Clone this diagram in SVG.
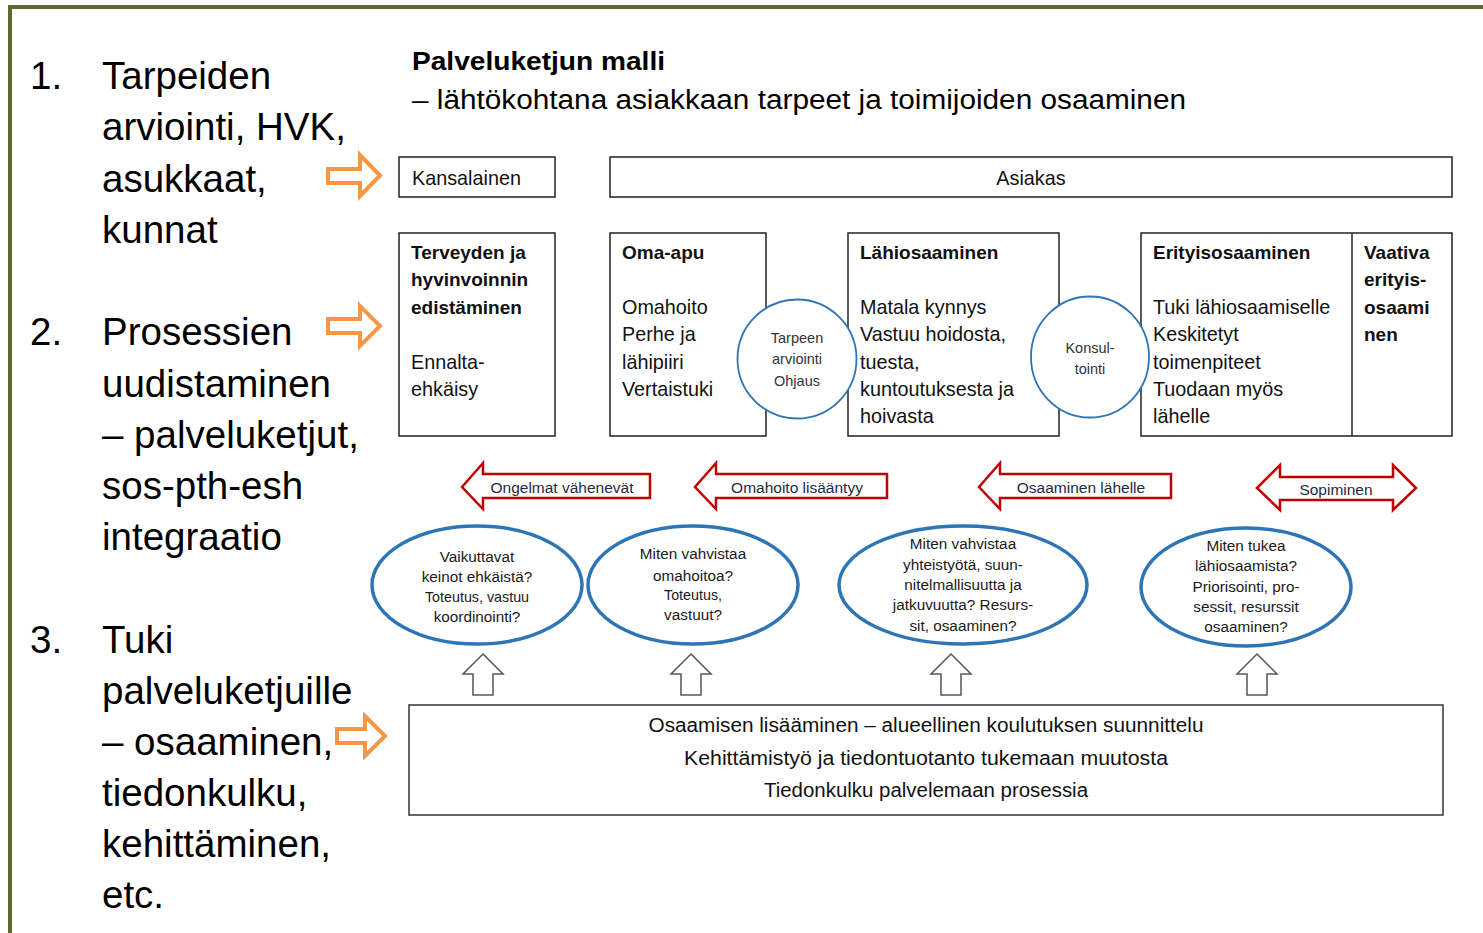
<svg xmlns="http://www.w3.org/2000/svg" width="1483" height="933" viewBox="0 0 1483 933">
<style>
text{font-family:"Liberation Sans",Arial,sans-serif;fill:#111}
.big{font-size:38.5px;fill:#000}
.box{fill:#fff;stroke:#222;stroke-width:1.5}
.bt{font-size:19.8px}
.bb{font-size:19px;font-weight:bold}
.circ{fill:#fff;stroke:#2E75B6;stroke-width:1.8}
.ct{font-size:14.5px;fill:#333;text-anchor:middle}
.ell{fill:#fff;stroke:#2E75B6;stroke-width:3.5}
.et{font-size:15.3px;text-anchor:middle;fill:#1a1a1a}
.es{font-size:14.3px;text-anchor:middle;fill:#1a1a1a}
.red{fill:#fff;stroke:#C00000;stroke-width:2.5;stroke-linejoin:miter}
.rt{font-size:15.5px;fill:#1F2A44;text-anchor:middle}
.org{fill:#fff;stroke:#F79646;stroke-width:4}
.up{fill:#fff;stroke:#555;stroke-width:1.5}
.bot{font-size:20px;text-anchor:middle;fill:#111}
</style>
<path d="M10,933 V7 H1483" fill="none" stroke="#5B6B2E" stroke-width="4"/>

<g id="left-list">
<text class="big" x="30" y="89">1.</text>
<text class="big" x="102" y="89">Tarpeiden</text>
<text class="big" x="102" y="140">arviointi, HVK,</text>
<text class="big" x="102" y="192">asukkaat,</text>
<text class="big" x="102" y="243">kunnat</text>
<text class="big" x="30" y="345">2.</text>
<text class="big" x="102" y="345">Prosessien</text>
<text class="big" x="102" y="397">uudistaminen</text>
<text class="big" x="102" y="448">– palveluketjut,</text>
<text class="big" x="102" y="499">sos-pth-esh</text>
<text class="big" x="102" y="550">integraatio</text>
<text class="big" x="30" y="653">3.</text>
<text class="big" x="102" y="653">Tuki</text>
<text class="big" x="102" y="704">palveluketjuille</text>
<text class="big" x="102" y="755">– osaaminen,</text>
<text class="big" x="102" y="806">tiedonkulku,</text>
<text class="big" x="102" y="857">kehittäminen,</text>
<text class="big" x="102" y="908">etc.</text>
</g>

<g id="title">
<text x="412" y="70" style="font-size:26px;font-weight:bold;fill:#000" textLength="253" lengthAdjust="spacingAndGlyphs">Palveluketjun malli</text>
<text x="412" y="109" style="font-size:27px;fill:#000" textLength="774" lengthAdjust="spacingAndGlyphs">– lähtökohtana asiakkaan tarpeet ja toimijoiden osaaminen</text>
</g>

<g id="connectors">
<path class="org" d="M328,169 H360 V155 L380,175.5 L360,196 V183 H328 Z"/>
<path class="org" d="M328,319 H360 V306 L380,326 L360,346 V333 H328 Z"/>
<path class="org" d="M337,729 H365 V716 L385,736 L365,756 V743 H337 Z"/>
<path class="red" d="M462,487 L483,463 V474 H650 V498 H483 V509 Z"/>
<path class="red" d="M695,487 L716,463 V474 H887 V498 H716 V509 Z"/>
<path class="red" d="M979,487 L1000,463 V474 H1171 V498 H1000 V509 Z"/>
<path class="red" d="M1257,488 L1280,465 V477 H1393 V465 L1416,488 L1393,510 V500 H1280 V510 Z"/>
<text class="rt" x="562" y="493">Ongelmat vähenevät</text>
<text class="rt" x="797" y="493">Omahoito lisääntyy</text>
<text class="rt" x="1081" y="493">Osaaminen lähelle</text>
<text class="rt" x="1336" y="495">Sopiminen</text>
<path class="up" d="M483,654 L503,674 H493 V695 H473 V674 H463 Z"/>
<path class="up" d="M691,654 L711,674 H701 V695 H681 V674 H671 Z"/>
<path class="up" d="M951,654 L971,674 H961 V695 H941 V674 H931 Z"/>
<path class="up" d="M1257,654 L1277,674 H1267 V695 H1247 V674 H1237 Z"/>
</g>

<g id="kansalainen">
<rect class="box" x="399" y="157" width="156" height="40"/>
<text class="bt" x="412" y="185">Kansalainen</text>
</g>
<g id="asiakas">
<rect class="box" x="610" y="157" width="842" height="40"/>
<text class="bt" x="1031" y="185" text-anchor="middle">Asiakas</text>
</g>

<g id="terveyden">
<rect class="box" x="399" y="233" width="156" height="203"/>
<text class="bb" x="411" y="259">Terveyden ja</text>
<text class="bb" x="411" y="286">hyvinvoinnin</text>
<text class="bb" x="411" y="314">edistäminen</text>
<text class="bt" x="411" y="369">Ennalta-</text>
<text class="bt" x="411" y="396">ehkäisy</text>
</g>
<g id="oma-apu">
<rect class="box" x="610" y="233" width="156" height="203"/>
<text class="bb" x="622" y="259">Oma-apu</text>
<text class="bt" x="622" y="314">Omahoito</text>
<text class="bt" x="622" y="341">Perhe ja</text>
<text class="bt" x="622" y="369">lähipiiri</text>
<text class="bt" x="622" y="396">Vertaistuki</text>
</g>
<g id="lahiosaaminen">
<rect class="box" x="848" y="233" width="211" height="203"/>
<text class="bb" x="860" y="259">Lähiosaaminen</text>
<text class="bt" x="860" y="314">Matala kynnys</text>
<text class="bt" x="860" y="341">Vastuu hoidosta,</text>
<text class="bt" x="860" y="369">tuesta,</text>
<text class="bt" x="860" y="396">kuntoutuksesta ja</text>
<text class="bt" x="860" y="423">hoivasta</text>
</g>
<g id="erityisosaaminen">
<rect class="box" x="1141" y="233" width="311" height="203"/>
<line x1="1352" y1="233" x2="1352" y2="436" stroke="#222" stroke-width="1.5"/>
<text class="bb" x="1153" y="259">Erityisosaaminen</text>
<text class="bt" x="1153" y="314">Tuki lähiosaamiselle</text>
<text class="bt" x="1153" y="341">Keskitetyt</text>
<text class="bt" x="1153" y="369">toimenpiteet</text>
<text class="bt" x="1153" y="396">Tuodaan myös</text>
<text class="bt" x="1153" y="423">lähelle</text>
</g>
<g id="vaativa">
<text class="bb" x="1364" y="259">Vaativa</text>
<text class="bb" x="1364" y="286">erityis-</text>
<text class="bb" x="1364" y="314">osaami</text>
<text class="bb" x="1364" y="341">nen</text>
</g>

<g id="tarpeen-arviointi">
<circle class="circ" cx="797" cy="359" r="59.5"/>
<text class="ct" x="797" y="343">Tarpeen</text>
<text class="ct" x="797" y="364">arviointi</text>
<text class="ct" x="797" y="386">Ohjaus</text>
</g>
<g id="konsultointi">
<ellipse class="circ" cx="1090" cy="357" rx="59" ry="60.5"/>
<text class="ct" x="1090" y="353">Konsul-</text>
<text class="ct" x="1090" y="374">tointi</text>
</g>

<g id="q1">
<ellipse class="ell" cx="477" cy="585" rx="105" ry="59"/>
<text class="et" x="477" y="562">Vaikuttavat</text>
<text class="et" x="477" y="582">keinot ehkäistä?</text>
<text class="es" x="477" y="602">Toteutus, vastuu</text>
<text class="et" x="477" y="622">koordinointi?</text>
</g>
<g id="q2">
<ellipse class="ell" cx="693" cy="585" rx="105" ry="59"/>
<text class="et" x="693" y="559">Miten vahvistaa</text>
<text class="et" x="693" y="581">omahoitoa?</text>
<text class="es" x="693" y="600">Toteutus,</text>
<text class="et" x="693" y="620">vastuut?</text>
</g>
<g id="q3">
<ellipse class="ell" cx="963" cy="585" rx="124" ry="59"/>
<text class="et" x="963" y="549">Miten vahvistaa</text>
<text class="et" x="963" y="570">yhteistyötä, suun-</text>
<text class="et" x="963" y="590">nitelmallisuutta ja</text>
<text class="et" x="963" y="610">jatkuvuutta? Resurs-</text>
<text class="et" x="963" y="631">sit, osaaminen?</text>
</g>
<g id="q4">
<ellipse class="ell" cx="1246" cy="587" rx="105" ry="59"/>
<text class="et" x="1246" y="551">Miten tukea</text>
<text class="et" x="1246" y="571">lähiosaamista?</text>
<text class="et" x="1246" y="592">Priorisointi, pro-</text>
<text class="et" x="1246" y="612">sessit, resurssit</text>
<text class="et" x="1246" y="632">osaaminen?</text>
</g>

<g id="bottom-box">
<rect x="409" y="705" width="1034" height="110" fill="#fff" stroke="#333" stroke-width="1.5"/>
<text class="bot" x="926" y="732" textLength="555" lengthAdjust="spacingAndGlyphs">Osaamisen lisääminen – alueellinen koulutuksen suunnittelu</text>
<text class="bot" x="926" y="765" textLength="484" lengthAdjust="spacingAndGlyphs">Kehittämistyö ja tiedontuotanto tukemaan muutosta</text>
<text class="bot" x="926" y="797" textLength="324" lengthAdjust="spacingAndGlyphs">Tiedonkulku palvelemaan prosessia</text>
</g>
</svg>
